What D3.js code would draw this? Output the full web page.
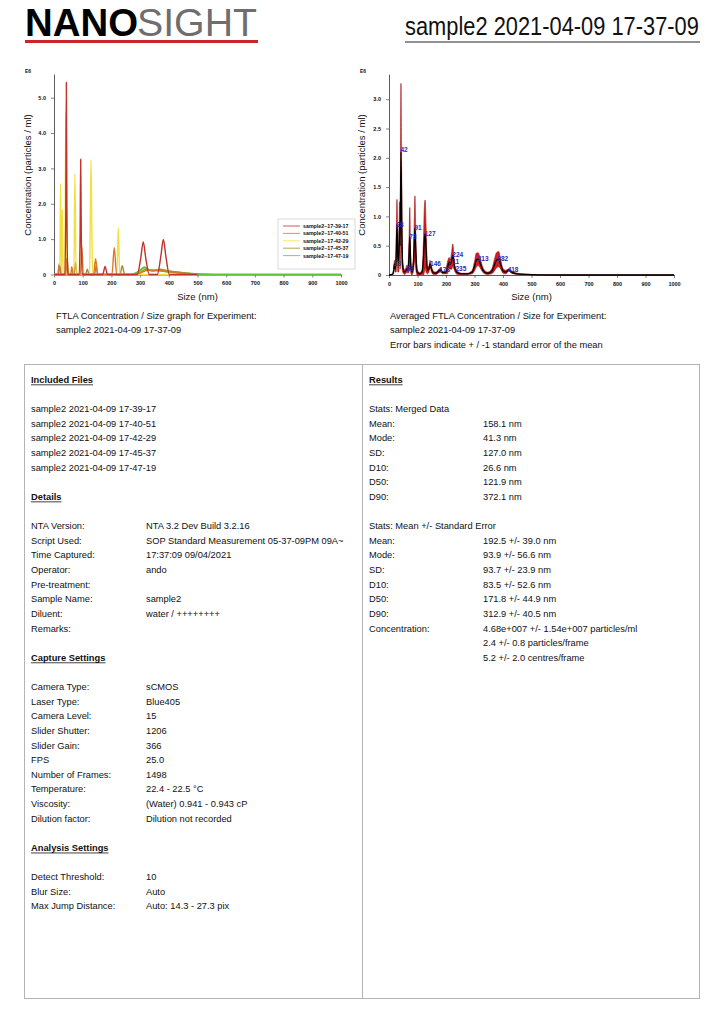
<!DOCTYPE html>
<html>
<head>
<meta charset="utf-8">
<script src="https://cdn.jsdelivr.net/npm/d3@7"></script>
<style>
  body { margin: 0; background: #fff; }
  text { font-family: "Liberation Sans", Arial, sans-serif; fill: #111; }
</style>
</head>
<body>
<div id="page"></div>
<script>
// ---- data ----
const reportTitle = "sample2 2021-04-09 17-37-09";

// left chart: one [size nm, concentration E6] list per run
const runNames = ["sample2~17-39-17", "sample2~17-40-51", "sample2~17-42-29", "sample2~17-45-37", "sample2~17-47-19"];
const runColors = ["#c4302a", "#d9782a", "#f2e040", "#a88a30", "#5cc83a"];
const run1 = [[0,0],[38,0],[41,1.8],[43,5.43],[45,1.8],[48,0],[88,0],[91,1.2],[93,3.26],[95,1.2],[98,0],[170,0],[178,0.23],[186,0],[290,0],[302,0.45],[311,0.92],[320,0.45],[332,0],[360,0],[372,0.5],[381,0.99],[390,0.5],[402,0],[500,0]];
const run2 = [[0,0],[15,0],[20,0.25],[25,0],[40,0],[44,0.45],[48,0],[58,0],[62,0.22],[66,0],[92,0],[97,0.8],[102,0],[138,0],[145,0.45],[152,0],[202,0],[210,0.76],[218,0],[280,0],[330,0.12],[380,0.1],[420,0.06],[470,0.02],[500,0]];
const run3 = [[0,0],[20,0],[23,2.58],[26,0],[29,1.84],[32,0],[38,0],[41,4.58],[44,0],[69,0],[73,2.85],[77,0],[124,0],[126,1.2],[129,3.24],[132,1.2],[135,0],[219,0],[224,1.32],[229,0],[500,0]];
const run4 = [[0,0],[13,0],[18,0.3],[23,0],[41,0],[46,0.45],[51,0],[70,0],[75,0.35],[80,0],[110,0],[116,0.15],[122,0],[141,0],[147,0.25],[153,0],[230,0],[238,0.25],[246,0],[290,0],[320,0.15],[345,0.1],[368,0.15],[400,0.1],[440,0.06],[500,0]];
const run5 = [[0,0],[270,0],[295,0.08],[315,0.2],[335,0.12],[360,0.12],[400,0.08],[450,0.04],[500,0.01],[560,0],[1000,0]];
const runs = [run1, run2, run3, run4, run5];

// right chart: averaged curve, +/- standard error
const avgSize = [0,12,16,19,22,25,28,31,34,37,39,42,45,48,54,60,63,66,70,73,76,80,85,89,91,94,99,108,116,121,124,127,130,135,140,144,148,155,165,175,181,188,198,205,211,215,220,224,228,232,240,255,275,292,300,306,313,320,330,345,360,370,377,385,392,400,410,420,430,450,480,520,600,1000];
const avgMean = [0,0.01,0.06,0.19,0.1,0.3,0.86,0.3,0.2,0.9,0.5,2.1,0.8,0.15,0.05,0.08,0.11,0.08,0.3,0.65,0.2,0.05,0.15,0.6,0.8,0.4,0.05,0.02,0.05,0.3,0.6,0.7,0.45,0.08,0.1,0.19,0.12,0.04,0.03,0.07,0.085,0.04,0.04,0.12,0.22,0.18,0.25,0.34,0.2,0.1,0.04,0.02,0.02,0.05,0.15,0.25,0.27,0.2,0.08,0.03,0.06,0.17,0.25,0.27,0.18,0.07,0.05,0.085,0.05,0.02,0.01,0.003,0,0];
const avgErr = [0,0.01,0.04,0.06,0.05,0.25,0.43,0.25,0.15,0.35,0.4,1.17,0.6,0.1,0.04,0.05,0.06,0.05,0.25,0.5,0.15,0.05,0.1,0.4,0.55,0.3,0.05,0.02,0.04,0.3,0.55,0.58,0.4,0.06,0.05,0.06,0.05,0.03,0.02,0.03,0.035,0.02,0.02,0.1,0.08,0.08,0.15,0.19,0.1,0.05,0.03,0.01,0.01,0.03,0.08,0.12,0.11,0.08,0.04,0.02,0.04,0.1,0.13,0.13,0.08,0.04,0.03,0.02,0.02,0.01,0.005,0.002,0,0];
const peakSize = [18,28,42,63,73,91,127,146,178,211,224,235,313,382,418];
const peakConc = [0.19,0.86,2.13,0.11,0.65,0.8,0.7,0.19,0.085,0.22,0.34,0.1,0.27,0.27,0.085];

const sizeTicks = [0,100,200,300,400,500,600,700,800,900,1000];
const leftConcTicks = [0,1,2,3,4,5];
const rightConcTicks = [0,0.5,1,1.5,2,2.5,3];

// report table
const includedFiles = ["sample2 2021-04-09 17-39-17","sample2 2021-04-09 17-40-51","sample2 2021-04-09 17-42-29","sample2 2021-04-09 17-45-37","sample2 2021-04-09 17-47-19"];
const detailRows = [["NTA Version:","NTA 3.2 Dev Build 3.2.16"],["Script Used:","SOP Standard Measurement 05-37-09PM 09A~"],["Time Captured:","17:37:09  09/04/2021"],["Operator:","ando"],["Pre-treatment:",""],["Sample Name:","sample2"],["Diluent:","water / ++++++++"],["Remarks:",""]];
const captureRows = [["Camera Type:","sCMOS"],["Laser Type:","Blue405"],["Camera Level:","15"],["Slider Shutter:","1206"],["Slider Gain:","366"],["FPS","25.0"],["Number of Frames:","1498"],["Temperature:","22.4 - 22.5 \u00B0C"],["Viscosity:","(Water) 0.941 - 0.943 cP"],["Dilution factor:","Dilution not recorded"]];
const analysisRows = [["Detect Threshold:","10"],["Blur Size:","Auto"],["Max Jump Distance:","Auto: 14.3 - 27.3 pix"]];
const mergedRows = [["Mean:","158.1 nm"],["Mode:","41.3 nm"],["SD:","127.0 nm"],["D10:","26.6 nm"],["D50:","121.9 nm"],["D90:","372.1 nm"]];
const seRows = [["Mean:","192.5 +/- 39.0 nm"],["Mode:","93.9 +/- 56.6 nm"],["SD:","93.7 +/- 23.9 nm"],["D10:","83.5 +/- 52.6 nm"],["D50:","171.8 +/- 44.9 nm"],["D90:","312.9 +/- 40.5 nm"],["Concentration:","4.68e+007 +/- 1.54e+007 particles/ml"],["","2.4 +/- 0.8 particles/frame"],["","5.2 +/- 2.0 centres/frame"]];

// ---- page ----
const svg = d3.select("#page").append("svg")
  .attr("width", 724).attr("height", 1024);

// squeeze a text horizontally so it spans exactly w pixels
function fitText(x, y, size, w, t) {
  const g = svg.append("g");
  const el = g.append("text").style("font-size", size + "px").text(t);
  const k = w / el.node().getComputedTextLength();
  g.attr("transform", `translate(${x},${y}) scale(${k},1)`);
  return el;
}

// header
fitText(25, 36, 39, 111, "NANO").style("font-weight", "bold").style("fill", "#000");
fitText(137, 36, 39, 120, "SIGHT").style("fill", "#6e6e6e");
svg.append("rect").attr("x", 25).attr("y", 40).attr("width", 233).attr("height", 3).attr("fill", "#c8262c");

fitText(405, 35, 25, 294, reportTitle);
svg.append("line").attr("x1", 405).attr("x2", 700).attr("y1", 42).attr("y2", 42)
  .attr("stroke", "#222").attr("stroke-width", 1);

// shared axis drawing
function drawAxes(x, y, yTicks, yLabelX) {
  const fmt = d => d === 0 ? "0" : d3.format(".1f")(d);
  const gx = svg.append("g").attr("transform", `translate(0,${y.range()[0]})`)
    .call(d3.axisBottom(x).tickValues(sizeTicks).tickFormat(d3.format("d")).tickSize(3).tickSizeOuter(0).tickPadding(4));
  const gy = svg.append("g").attr("transform", `translate(${x.range()[0]},0)`)
    .call(d3.axisLeft(y).tickValues(yTicks).tickFormat(fmt).tickSize(3).tickSizeOuter(0).tickPadding(5));
  [gx, gy].forEach(g => {
    g.select(".domain").attr("stroke", "#333").attr("stroke-width", 0.8);
    g.selectAll(".tick line").attr("stroke", "#333").attr("stroke-width", 0.6);
    g.selectAll(".tick text").style("font-size", "5.5px").style("font-weight", "bold")
      .style("font-family", '"Liberation Sans", Arial, sans-serif').attr("fill", "#111");
  });
  const xm = (x.range()[0] + x.range()[1]) / 2;
  svg.append("text").attr("x", xm).attr("y", 300).attr("text-anchor", "middle")
    .style("font-size", "9.5px").text("Size (nm)");
  svg.append("text").attr("transform", `translate(${yLabelX},175) rotate(-90)`)
    .attr("text-anchor", "middle").style("font-size", "9.5px")
    .text("Concentration (particles / ml)");
  svg.append("text").attr("x", x.range()[0] - 29).attr("y", 73)
    .style("font-size", "5px").style("font-weight", "bold").text("E6");
}

// ---- left chart: every run ----
const xL = d3.scaleLinear().domain([0, 1000]).range([54, 341]);
const yL = d3.scaleLinear().domain([0, 5.67]).range([274.5, 74]);
drawAxes(xL, yL, leftConcTicks, 31);

const lineL = d3.line().x(d => xL(d[0])).y(d => yL(d[1])).curve(d3.curveMonotoneX);
// green first (flat baseline to 1000), then the others on top
[4, 3, 2, 1, 0].forEach(i => {
  svg.append("path").datum(runs[i]).attr("d", lineL)
    .attr("fill", "none").attr("stroke", runColors[i])
    .attr("stroke-width", i === 4 ? 2.2 : 1.4);
});

// legend
const lg = svg.append("g").attr("transform", "translate(278,219)");
lg.append("rect").attr("width", 77).attr("height", 50).attr("fill", "#fff").attr("stroke", "#c8c8c8").attr("stroke-width", 0.7);
runNames.forEach((n, i) => {
  const yy = 7 + i * 7.4;
  lg.append("line").attr("x1", 5).attr("x2", 22).attr("y1", yy).attr("y2", yy)
    .attr("stroke", runColors[i]).attr("stroke-width", 0.8);
  lg.append("text").attr("x", 25).attr("y", yy + 2).style("font-size", "5.3px")
    .style("font-weight", "bold").text(n);
});

// ---- right chart: averaged with error band ----
const xR = d3.scaleLinear().domain([0, 1000]).range([389, 674]);
const yR = d3.scaleLinear().domain([0, 3.43]).range([275, 74]);
drawAxes(xR, yR, rightConcTicks, 365);

const avg = avgSize.map((s, i) => ({ s: s, m: avgMean[i], e: avgErr[i] }));
svg.append("path").datum(avg)
  .attr("d", d3.area().x(d => xR(d.s)).y0(d => yR(Math.max(0, d.m - d.e))).y1(d => yR(d.m + d.e)).curve(d3.curveMonotoneX))
  .attr("fill", "#d41c1c").attr("stroke", "#9c1010").attr("stroke-width", 0.6);
svg.append("path").datum(avg)
  .attr("d", d3.line().x(d => xR(d.s)).y(d => yR(d.m)).curve(d3.curveMonotoneX))
  .attr("fill", "none").attr("stroke", "#000").attr("stroke-width", 1.3);

peakSize.forEach((s, i) => {
  svg.append("text").attr("x", xR(s) - 0.5).attr("y", yR(peakConc[i]) + 2.2)
    .style("font-size", "6.5px").style("font-weight", "bold").style("fill", "#2b2bb8")
    .text(String(s));
});

// captions
const capL = ["FTLA Concentration / Size graph for Experiment:", reportTitle];
const capR = ["Averaged FTLA Concentration / Size for Experiment:", reportTitle, "Error bars indicate + / -1 standard error of the mean"];
capL.forEach((t, i) => svg.append("text").attr("x", 56).attr("y", 319 + i * 14.3).style("font-size", "9.3px").text(t));
capR.forEach((t, i) => svg.append("text").attr("x", 390).attr("y", 319 + i * 14.3).style("font-size", "9.3px").text(t));

// ---- report table ----
svg.append("rect").attr("x", 24.5).attr("y", 364.5).attr("width", 675).attr("height", 634)
  .attr("fill", "none").attr("stroke", "#b4b4b4").attr("stroke-width", 1);
svg.append("line").attr("x1", 362.5).attr("x2", 362.5).attr("y1", 364.5).attr("y2", 998.5)
  .attr("stroke", "#b4b4b4").attr("stroke-width", 1);

const rowY = idx => 379.5 + idx * 14.63 + 3.3;
function heading(x, idx, t) {
  const el = svg.append("text").attr("x", x).attr("y", rowY(idx))
    .style("font-size", "9.3px").style("font-weight", "bold").text(t);
  const w = el.node().getComputedTextLength();
  svg.append("line").attr("x1", x).attr("x2", x + w).attr("y1", rowY(idx) + 2).attr("y2", rowY(idx) + 2)
    .attr("stroke", "#111").attr("stroke-width", 0.8);
}
function rows(x, xv, idx, list) {
  list.forEach((r, i) => {
    svg.append("text").attr("x", x).attr("y", rowY(idx + i)).style("font-size", "9.3px").text(r[0]);
    svg.append("text").attr("x", xv).attr("y", rowY(idx + i)).style("font-size", "9.3px").text(r[1]);
  });
}

heading(31, 0, "Included Files");
includedFiles.forEach((f, i) => svg.append("text").attr("x", 31).attr("y", rowY(2 + i)).style("font-size", "9.3px").text(f));
heading(31, 8, "Details");
rows(31, 146, 10, detailRows);
heading(31, 19, "Capture Settings");
rows(31, 146, 21, captureRows);
heading(31, 32, "Analysis Settings");
rows(31, 146, 34, analysisRows);

heading(369, 0, "Results");
svg.append("text").attr("x", 369).attr("y", rowY(2)).style("font-size", "9.3px").text("Stats: Merged Data");
rows(369, 483, 3, mergedRows);
svg.append("text").attr("x", 369).attr("y", rowY(10)).style("font-size", "9.3px").text("Stats: Mean +/- Standard Error");
rows(369, 483, 11, seRows);
</script>
</body>
</html>
